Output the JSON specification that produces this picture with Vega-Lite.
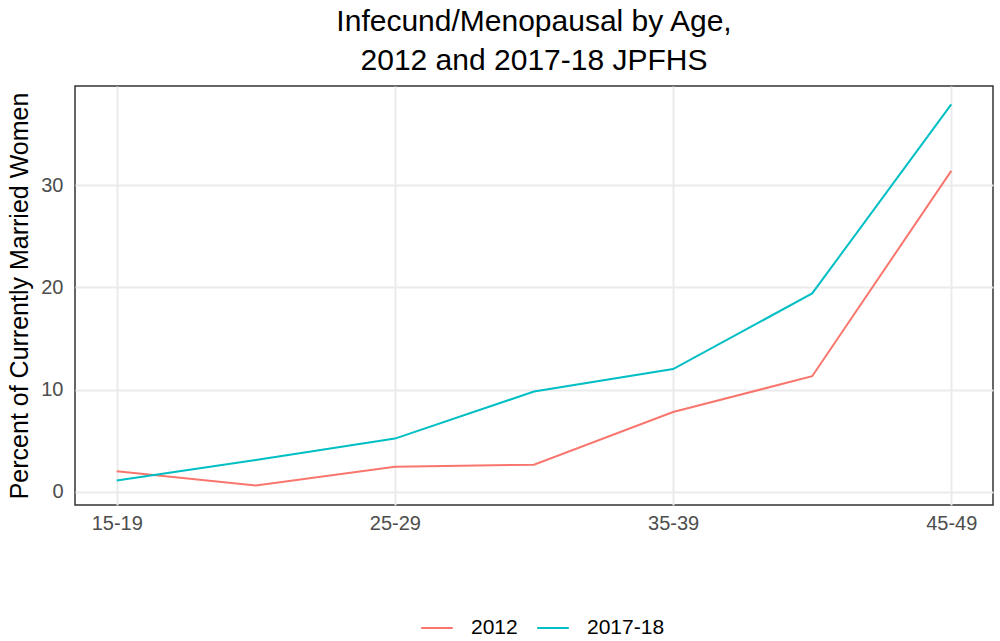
{
  "$schema": "https://vega.github.io/schema/vega-lite/v6.json",
  "width": 918,
  "height": 419,
  "autosize": "none",
  "padding": {"left": 75, "top": 86, "right": 7, "bottom": 136},
  "background": "white",
  "title": {
    "text": ["Infecund/Menopausal by Age,", "2012 and 2017-18 JPFHS"],
    "font": "Liberation Sans",
    "fontSize": 30,
    "fontWeight": "normal",
    "color": "black",
    "anchor": "middle",
    "lineHeight": 39,
    "offset": 10
  },
  "config": {
    "view": {"stroke": "#333333", "strokeWidth": 1.5},
    "font": "Liberation Sans"
  },
  "data": {
    "values": [
      {"age": "15-19", "survey": "2012", "percent": 2.0},
      {"age": "20-24", "survey": "2012", "percent": 0.6},
      {"age": "25-29", "survey": "2012", "percent": 2.45},
      {"age": "30-34", "survey": "2012", "percent": 2.65},
      {"age": "35-39", "survey": "2012", "percent": 7.8},
      {"age": "40-44", "survey": "2012", "percent": 11.3},
      {"age": "45-49", "survey": "2012", "percent": 31.4},
      {"age": "15-19", "survey": "2017-18", "percent": 1.1},
      {"age": "20-24", "survey": "2017-18", "percent": 3.1},
      {"age": "25-29", "survey": "2017-18", "percent": 5.2},
      {"age": "30-34", "survey": "2017-18", "percent": 9.8},
      {"age": "35-39", "survey": "2017-18", "percent": 12.0},
      {"age": "40-44", "survey": "2017-18", "percent": 19.4},
      {"age": "45-49", "survey": "2017-18", "percent": 37.9}
    ]
  },
  "mark": {"type": "line", "strokeWidth": 2},
  "encoding": {
    "x": {
      "field": "age",
      "type": "ordinal",
      "sort": null,
      "scale": {"type": "point", "padding": 0.3},
      "axis": {
        "title": null,
        "labelAngle": 0,
        "labelFontSize": 20,
        "labelColor": "#4d4d4d",
        "labelPadding": 8,
        "ticks": false,
        "domain": false,
        "grid": true,
        "gridColor": "#EBEBEB",
        "gridWidth": 2,
        "gridOpacity": {"condition": {"test": "indexof(['15-19','25-29','35-39','45-49'], datum.value) >= 0", "value": 1}, "value": 0},
        "labelExpr": "indexof(['15-19','25-29','35-39','45-49'], datum.value) >= 0 ? datum.value : ''"
      }
    },
    "y": {
      "field": "percent",
      "type": "quantitative",
      "scale": {"domain": [-1.3, 39.7], "nice": false, "zero": false},
      "axis": {
        "title": "Percent of Currently Married Women",
        "titleFontSize": 25,
        "titleFontWeight": "normal",
        "titleColor": "black",
        "titlePadding": 8,
        "values": [0, 10, 20, 30],
        "labelFontSize": 20,
        "labelColor": "#4d4d4d",
        "labelPadding": 12,
        "ticks": false,
        "domain": false,
        "grid": true,
        "gridColor": "#EBEBEB",
        "gridWidth": 2
      }
    },
    "color": {
      "field": "survey",
      "type": "nominal",
      "scale": {"domain": ["2012", "2017-18"], "range": ["#F8766D", "#00BFC4"]},
      "legend": {
        "title": null,
        "orient": "none",
        "direction": "horizontal",
        "legendX": 345,
        "legendY": 525,
        "symbolType": "stroke",
        "symbolStrokeWidth": 2,
        "symbolSize": 1000,
        "labelFontSize": 21,
        "labelColor": "black",
        "columnPadding": 15,
        "labelOffset": 17
      }
    }
  }
}
